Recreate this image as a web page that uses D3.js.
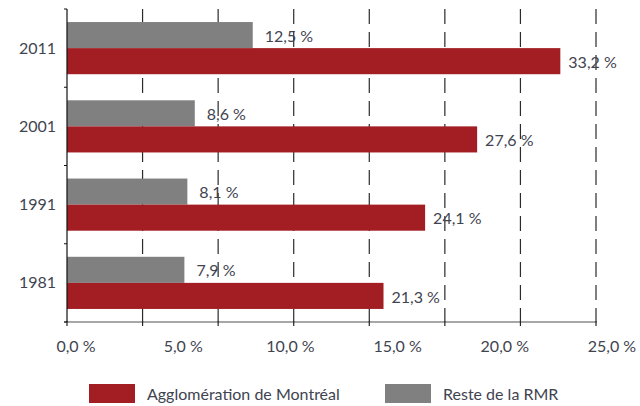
<!DOCTYPE html>
<html>
<head>
<meta charset="utf-8">
<script src="https://cdn.jsdelivr.net/npm/d3@7"></script>
<style>
  html, body { margin: 0; padding: 0; background: #fff; }
  svg { display: block; font-family: Lato, "Open Sans", sans-serif; }
</style>
</head>
<body>
<svg id="chart" width="640" height="406"></svg>
<script>
// Years, top to bottom
const years = ["2011", "2001", "1991", "1981"];
// Share (%) for each series, in the same order as years
const agglomeration = [33.2, 27.6, 24.1, 21.3];
const resteRMR = [12.5, 8.6, 8.1, 7.9];
const seriesNames = ["Reste de la RMR", "Agglomération de Montréal"];
// Labels printed under the horizontal axis
const tickLabels = ["0,0 %", "5,0 %", "10,0 %", "15,0 %", "20,0 %", "25,0 %"];

const RED = "#A21E23";
const GREY = "#808080";
const TEXT = "#3F4450";

const svg = d3.select("#chart");
const plotLeft = 67, plotRight = 596, plotTop = 9, plotBottom = 322;

const xMax = 35.6;
const x = d3.scaleLinear().domain([0, xMax]).range([plotLeft, plotRight]);
const y = d3.scaleBand().domain(years).range([plotTop, plotBottom]);
const inner = d3.scaleBand().domain(seriesNames).range([0, y.bandwidth()]).paddingOuter(0.5);
const color = d3.scaleOrdinal().domain(seriesNames).range([GREY, RED]);

const fmt = v => v.toFixed(1).replace(".", ",") + " %";

// Dashed vertical gridlines, seven equal divisions
const grid = d3.range(1, 8).map(i => xMax * i / 7);
svg.append("g").selectAll("line").data(grid).join("line")
  .attr("x1", d => x(d)).attr("x2", d => x(d))
  .attr("y1", plotTop).attr("y2", plotBottom)
  .attr("stroke", "#2b2b2b").attr("stroke-width", 1.2)
  .attr("stroke-dasharray", "15,8");

// Rows of data
const rows = years.map((yr, i) => ({
  year: yr,
  values: [
    { series: seriesNames[0], value: resteRMR[i] },
    { series: seriesNames[1], value: agglomeration[i] }
  ]
}));

const groups = svg.append("g").selectAll("g").data(rows).join("g")
  .attr("transform", d => `translate(0,${y(d.year)})`);

groups.selectAll("rect").data(d => d.values).join("rect")
  .attr("x", x(0))
  .attr("y", d => inner(d.series))
  .attr("width", d => x(d.value) - x(0))
  .attr("height", inner.bandwidth())
  .attr("fill", d => color(d.series));

groups.selectAll("text").data(d => d.values).join("text")
  .attr("x", d => x(d.value) + (d.series === seriesNames[0] ? 12 : 8))
  .attr("y", d => inner(d.series) + inner.bandwidth() / 2 + 1)
  .attr("dy", "0.35em")
  .attr("font-size", 16)
  .attr("fill", TEXT)
  .text(d => fmt(d.value));

// Bottom axis line and ticks
const xAxis = svg.append("g").attr("transform", `translate(0,${plotBottom})`);
xAxis.append("line").attr("x1", plotLeft - 3).attr("x2", plotRight + 1)
  .attr("stroke", "#8a8a8a").attr("stroke-width", 1.6);
xAxis.selectAll("line.tick").data([0, ...grid]).join("line")
  .attr("class", "tick")
  .attr("x1", d => x(d)).attr("x2", d => x(d))
  .attr("y1", -1).attr("y2", 4)
  .attr("stroke", "#222").attr("stroke-width", 1.2);

// Tick labels spread evenly across the axis
const xl = d3.scalePoint().domain(tickLabels).range([76, 612]);
svg.append("g").selectAll("text").data(tickLabels).join("text")
  .attr("x", d => xl(d)).attr("y", 352)
  .attr("text-anchor", "middle")
  .attr("font-size", 16).attr("fill", TEXT)
  .text(d => d);

// Left axis with category boundary ticks
const yAxis = svg.append("g");
yAxis.append("line").attr("x1", plotLeft).attr("x2", plotLeft)
  .attr("y1", plotTop).attr("y2", plotBottom)
  .attr("stroke", "#111").attr("stroke-width", 1.2);
const bounds = years.map(d => y(d)).concat([plotBottom]);
yAxis.selectAll("line.tick").data(bounds).join("line")
  .attr("class", "tick")
  .attr("x1", plotLeft - 3).attr("x2", plotLeft)
  .attr("y1", d => d).attr("y2", d => d)
  .attr("stroke", "#111").attr("stroke-width", 1);
yAxis.selectAll("text").data(years).join("text")
  .attr("x", 56).attr("y", d => y(d) + y.bandwidth() / 2)
  .attr("dy", "0.35em").attr("text-anchor", "end")
  .attr("font-size", 16).attr("fill", TEXT)
  .text(d => d);

// Legend
const legendItems = [
  { name: seriesNames[1], sx: 89, tx: 147 },
  { name: seriesNames[0], sx: 385, tx: 443 }
];
const lg = svg.append("g").selectAll("g").data(legendItems).join("g");
lg.append("rect").attr("x", d => d.sx).attr("y", 384)
  .attr("width", 46).attr("height", 19)
  .attr("fill", d => color(d.name));
lg.append("text").attr("x", d => d.tx).attr("y", 394)
  .attr("dy", "0.35em").attr("font-size", 16).attr("fill", TEXT)
  .text(d => d.name);
</script>
</body>
</html>
